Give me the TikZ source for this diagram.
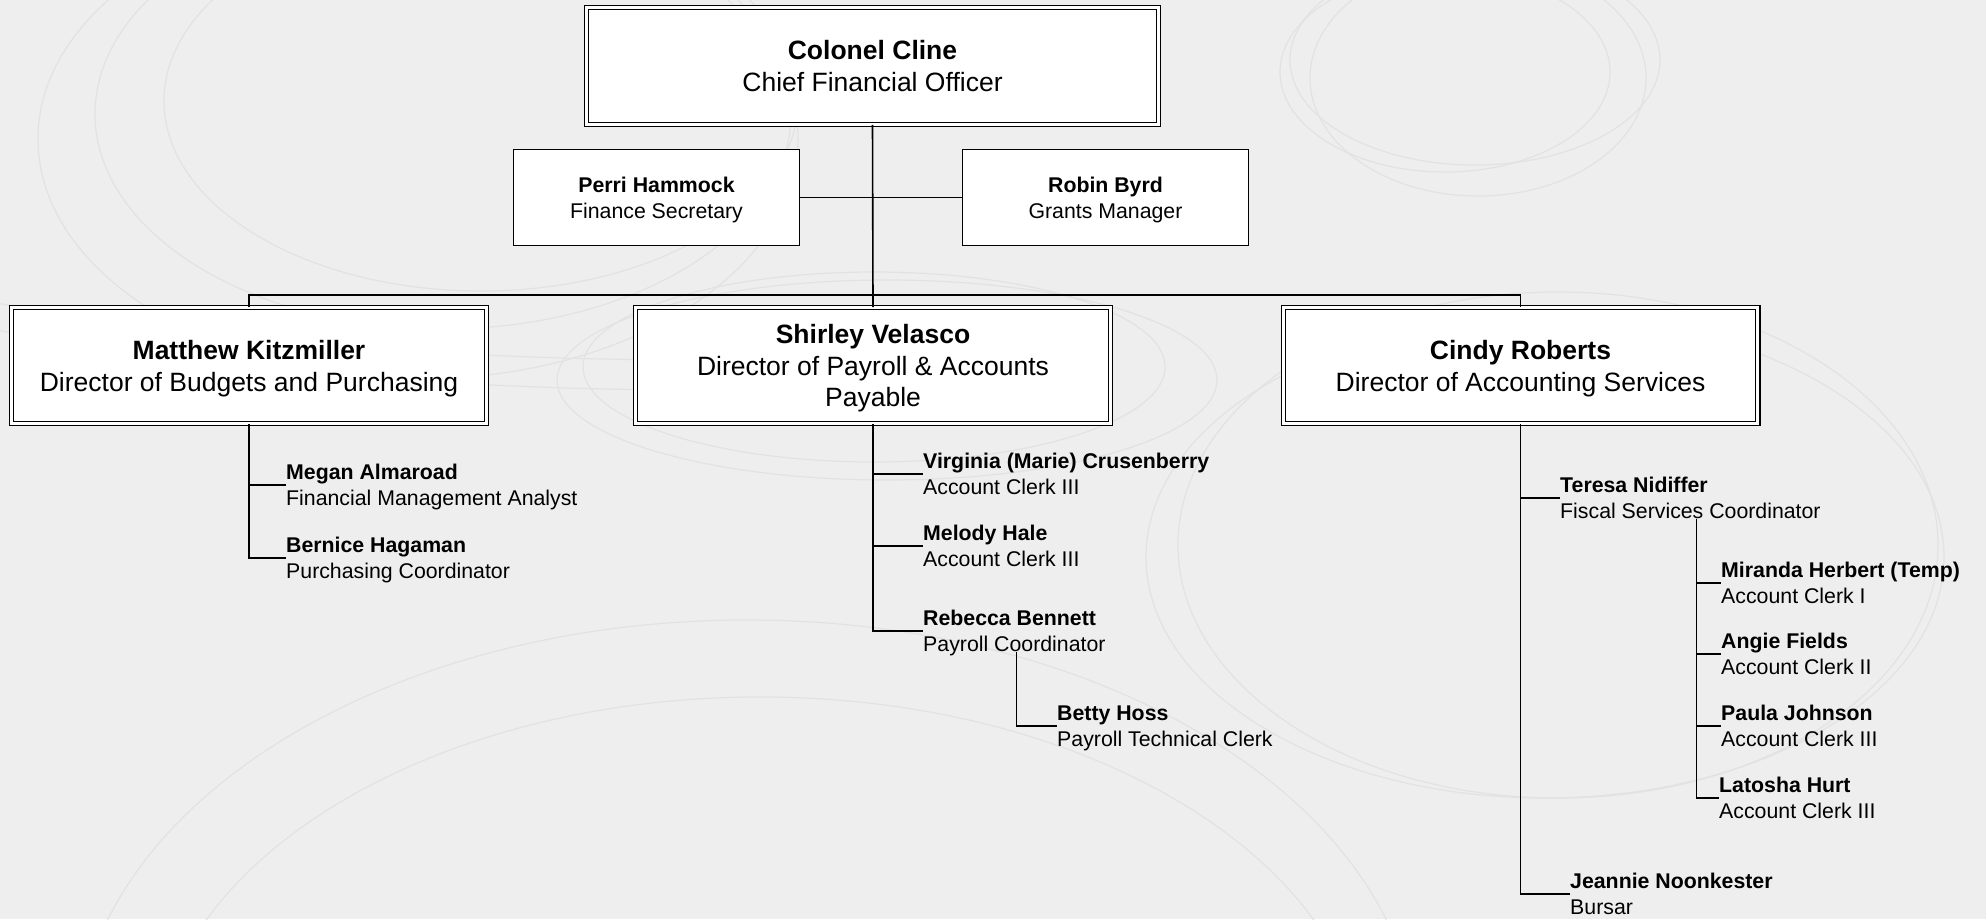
\documentclass[tikz,border=0pt]{standalone}
\usepackage{fontspec}
\setmainfont{Liberation Sans}
\usetikzlibrary{positioning}
\definecolor{paper}{RGB}{238,238,238}
\definecolor{swirl}{RGB}{226,226,226}
\newcommand{\bigfont}{\fontsize{26.5}{31.8}\selectfont}
\newcommand{\smallfont}{\fontsize{21.3}{25.6}\selectfont}
\begin{document}
\begin{tikzpicture}[x=1pt,y=-1pt]
    % Styles
    \tikzstyle{head box}=[draw,fill=white,double,double distance=3pt,line width=1.2pt,font=\bigfont,align=center,text depth=0pt,minimum width=474.6pt,minimum height=115.6pt,inner sep=0pt]
    \tikzstyle{staff box}=[draw,fill=white,line width=1.4pt,font=\smallfont,align=center,text depth=0pt,minimum width=286pt,minimum height=96pt,inner sep=0pt]
    \tikzstyle{member}=[font=\smallfont,align=left,anchor=west,text depth=0pt,inner sep=0pt]
    \tikzstyle{link}=[line width=1.6pt]
    %background
    \fill[paper] (0,0) rectangle (1986,919);
    \useasboundingbox (0,0) rectangle (1986,919);
    \begin{scope}
        \clip (0,0) rectangle (1986,919);
        \draw[swirl,line width=1.2pt] (1475,60) ellipse (185 and 105);
        \draw[swirl,line width=1.2pt] (1445,72) ellipse (165 and 100);
        \draw[swirl,line width=1.2pt] (1478,78) ellipse (168 and 118);
        \draw[swirl,line width=1.2pt] (418,139) ellipse (380 and 240);
        \draw[swirl,line width=1.2pt] (443,114) ellipse (348 and 215);
        \draw[swirl,line width=1.2pt] (481,101) ellipse (317 and 190);
        \draw[swirl,line width=1.2pt] (887,380) ellipse (330 and 100);
        \draw[swirl,line width=1.2pt] (874,367) ellipse (291 and 95);
        \draw[swirl,line width=1.2pt] (1545,557) ellipse (399 and 241);
        \draw[swirl,line width=1.2pt] (1558,545) ellipse (380 and 253);
        \draw[swirl,line width=1.2pt] (747,1051) ellipse (671 and 431);
        \draw[swirl,line width=1.2pt] (760,1077) ellipse (608 and 380);
        \begin{scope}
            \clip (0,0) rectangle (1000,919);
            \draw[swirl,line width=1.2pt] (700,-200) ellipse (1600 and 560);
            \draw[swirl,line width=1.2pt] (700,-200) ellipse (1600 and 590);
        \end{scope}
    \end{scope}
    %boxes
    \node[head box,minimum width=571.6pt,minimum height=116.6pt] (cline) at (872.5,66) {\textbf{Colonel Cline}\\Chief Financial Officer};
    \node[staff box] (hammock) at (656.5,197.5) {\textbf{Perri Hammock}\\Finance Secretary};
    \node[staff box] (byrd) at (1105.5,197.5) {\textbf{Robin Byrd}\\Grants Manager};
    \node[head box] (kitzmiller) at (249,365.5) {\textbf{Matthew Kitzmiller}\\Director of Budgets and Purchasing};
    \node[head box] (velasco) at (873,365.5) {\textbf{Shirley Velasco}\\Director of Payroll \& Accounts\\Payable};
    \node[head box] (roberts) at (1520.5,365.5) {\textbf{Cindy Roberts}\\Director of Accounting Services};
    %staff
    \foreach \name/\x/\y/\who/\job in {
        almaroad/286/485/Megan Almaroad/Financial Management Analyst,
        hagaman/286/558/Bernice Hagaman/Purchasing Coordinator,
        crusenberry/923/474/Virginia (Marie) Crusenberry/Account Clerk III,
        hale/923/546/Melody Hale/Account Clerk III,
        bennett/923/631/Rebecca Bennett/Payroll Coordinator,
        hoss/1057/726/Betty Hoss/Payroll Technical Clerk,
        nidiffer/1560/498/Teresa Nidiffer/Fiscal Services Coordinator,
        herbert/1721/583/Miranda Herbert (Temp)/Account Clerk I,
        fields/1721/654/Angie Fields/Account Clerk II,
        johnson/1721/726/Paula Johnson/Account Clerk III,
        hurt/1719/798/Latosha Hurt/Account Clerk III,
        noonkester/1570/894/Jeannie Noonkester/Bursar}
        \node[member] (\name) at (\x,\y) {\textbf{\who}\\\job};
    %lines
    \draw[link] (cline.south) -- (velasco.north);
    \draw[link] (hammock.east) -- (byrd.west);
    \coordinate (bus) at (873,295);
    \draw[link] (kitzmiller.north) |- (bus) -| (roberts.north);
    \foreach \boss/\man in {kitzmiller/almaroad,kitzmiller/hagaman,velasco/crusenberry,velasco/hale,velasco/bennett,roberts/nidiffer,roberts/noonkester}
        \draw[link] (\boss.south) |- (\man.west);
    \foreach \man in {herbert,fields,johnson,hurt}
        \draw[link] ([xshift=6pt]nidiffer.south) |- (\man.west);
    \draw[link] ([xshift=2pt]bennett.south) |- (hoss.west);
\end{tikzpicture}
\end{document}
